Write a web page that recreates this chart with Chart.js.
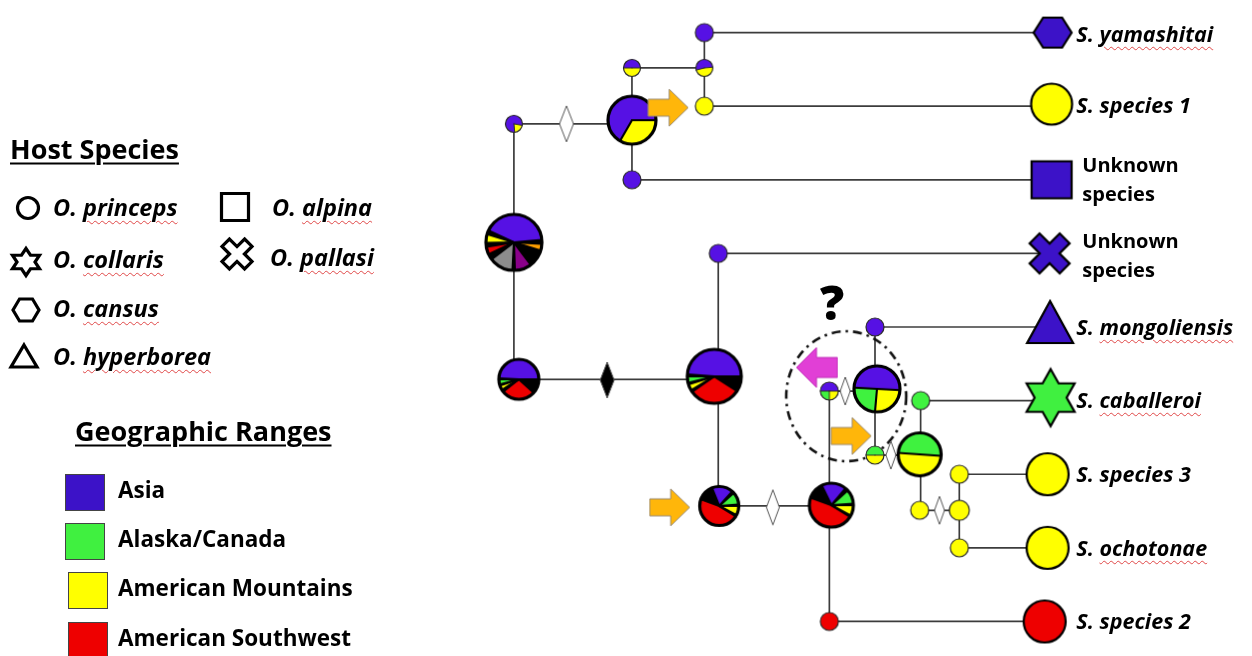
<!DOCTYPE html>
<html>
<head>
<meta charset="utf-8">
<title>Ancestral ranges and hosts</title>
<script src="https://cdn.jsdelivr.net/npm/chart.js@4.4.1/dist/chart.umd.min.js"></script>
<style>
  body { margin: 0; background: #fff; }
  #wrap { position: relative; width: 1252px; height: 656px; overflow: hidden; font-family: 'Open Sans', 'Noto Sans', sans-serif; color: #000; }
  #tree { position: absolute; left: 0; top: 0; }
  #keys { position: absolute; left: 0; top: 0; }
  .t { position: absolute; white-space: nowrap; line-height: 1; transform: translateY(-50%); font-weight: 700; }
  .i { font-style: italic; }
  .sp { text-decoration: underline wavy #e04848; text-decoration-thickness: 1px; text-underline-offset: 4px; }
  .h { font-size: 27px; text-decoration: underline; text-decoration-thickness: 2px; text-underline-offset: 4px; }
  .host { font-size: 23.5px; }
  .geo { font-size: 22.5px; }
  .tip { font-size: 21.5px; }
  .unk { font-size: 20px; line-height: 29px; }
  .sw { position: absolute; border: 1px solid #444; box-sizing: border-box; }
  .q { position: absolute; left: 820px; top: 278px; font-size: 48px; font-weight: 800; line-height: 1; }
</style>
</head>
<body>
<div id="wrap">
  <canvas id="tree" width="1252" height="656"></canvas>
  <svg id="keys" width="400" height="400"></svg>
  <div class="t h" style="left:10px;top:148px">Host Species</div>
  <div class="t h" style="left:75px;top:430px">Geographic Ranges</div>
  <div class="q">?</div>
</div>
<script>
// ---------- data ----------
const rangeNames = ['Asia', 'Alaska/Canada', 'American Mountains', 'American Southwest'];
const rangeKeys = ['AS', 'AK', 'AM', 'SW'];

const hostNames = ['O. princeps', 'O. alpina', 'O. collaris', 'O. pallasi', 'O. cansus', 'O. hyperborea'];
const hostShapes = ['circle', 'square', 'star', 'cross', 'hexagon', 'triangle'];

// tips, top to bottom (row = tip order)
const tipNames = ['S. yamashitai', 'S. species 1', 'Unknown species', 'Unknown species', 'S. mongoliensis',
                  'S. caballeroi', 'S. species 3', 'S. ochotonae', 'S. species 2'];
const tipRanges = ['AS', 'AM', 'AS', 'AS', 'AS', 'AK', 'AM', 'AM', 'SW'];
const tipHosts = ['O. cansus', 'O. princeps', 'O. alpina', 'O. pallasi', 'O. hyperborea',
                  'O. collaris', 'O. princeps', 'O. princeps', 'O. princeps'];
const tipRows = [0, 1, 2, 3, 4, 5, 6, 7, 8];
const tipX = [105.6, 105.5, 105.5, 105.3, 105.35, 105.4, 105.1, 105.1, 104.8];
const tipParents = ['E', 'F', 'G', 'K', 'P', 'S', 'V', 'W', 'X'];

// internal nodes
const nodeIds  = ['A', 'B', 'C', 'D', 'E', 'F', 'G', 'H', 'I', 'J', 'K', 'L',
                  'M', 'N', 'O', 'P', 'Q', 'R', 'S', 'T', 'U', 'V', 'W', 'X'];
const nodeX    = [51.3, 63.2, 63.2, 70.5, 70.5, 70.5, 63.2, 51.3, 51.8, 71.5, 71.9, 72.0,
                  83.3, 83.1, 87.9, 87.7, 87.7, 92.2, 92.3, 92.2, 96.2, 96.2, 96.2, 83.1];
const nodeRows = [1.24, 1.19, 0.48, 0.48, 0, 1.0, 2.0, 2.85, 4.71, 4.67, 3.0, 6.43,
                  6.42, 4.87, 4.84, 4.0, 5.74, 5.73, 5.0, 6.49, 6.49, 6.0, 7.0, 8.0];
// ancestral range slices in degrees, clockwise from nodeStart (BK = unresolved)
const nodeSlices = [
  [['AM', 75], ['AS', 285]],
  [['AM', 120], ['AS', 240]],
  [['AM', 180], ['AS', 180]],
  [['AM', 170], ['AS', 190]],
  [['AS', 360]],
  [['AM', 360]],
  [['AS', 360]],
  [['BK', 3], ['OR', 14], ['BK', 36], ['MG', 35], ['BK', 5], ['GR', 50], ['BK', 12],
   ['SW', 16], ['BK', 8], ['AM', 18], ['BK', 8], ['AS', 150], ['BK', 5]],
  [['BK', 42], ['SW', 100], ['BK', 6], ['AM', 14], ['BK', 3], ['AK', 15], ['BK', 3], ['AS', 177]],
  [['BK', 33], ['SW', 112], ['BK', 4], ['AM', 14], ['BK', 3], ['AK', 14], ['BK', 4], ['AS', 176]],
  [['AS', 360]],
  [['AM', 28], ['BK', 4], ['SW', 168], ['BK', 48], ['AS', 64], ['BK', 6], ['AK', 38], ['BK', 4]],
  [['AM', 28], ['BK', 4], ['SW', 168], ['BK', 44], ['AS', 66], ['BK', 8], ['AK', 38], ['BK', 4]],
  [['AM', 90], ['AK', 90], ['AS', 180]],
  [['AM', 92], ['AK', 88], ['AS', 180]],
  [['AS', 360]],
  [['AM', 180], ['AK', 180]],
  [['AM', 180], ['AK', 180]],
  [['AK', 360]],
  [['AM', 360]],
  [['AM', 360]],
  [['AM', 360]],
  [['AM', 360]],
  [['SW', 360]]
];
const nodeStart = [10, 0, 0, -5, 0, 0, 0, 0, 0, 0, 0, 0, 0, 0, 3, 0, 0, 4, 0, 0, 0, 0, 0, 0];

// branches: from, to, direction
const edgeFrom = ['A', 'C', 'C', 'E', 'A', 'I', 'K', 'L', 'N', 'N', 'P', 'Q', 'S', 'T', 'V'];
const edgeTo   = ['B', 'G', 'D', 'F', 'I', 'J', 'L', 'M', 'X', 'O', 'Q', 'R', 'T', 'U', 'W'];
const edgeDir  = ['h', 'v', 'h', 'v', 'v', 'h', 'v', 'h', 'v', 'h', 'v', 'h', 'v', 'h', 'v'];

// host switches on branches
const changeX = [56.6, 60.7, 77.4, 84.7, 89.3, 94.2];
const changeRows = [1.24, 4.72, 6.45, 4.87, 5.74, 6.49];
const changeFilled = [false, true, false, false, false, false];

// dispersal events
const arrowX = [66.85, 67.0, 85.3, 81.85];
const arrowRows = [1.02, 6.45, 5.48, 4.55];
const arrowDir = ['right', 'right', 'right', 'left'];

// uncertain placement
const ringX = [84.8];
const ringRows = [4.94];

// ---------- styles ----------
const rangeColor = { AS: '#5611e4', AK: '#3ff23f', AM: '#ffff00', SW: '#ee0000',
                     BK: '#000000', OR: '#ff9f00', MG: '#8a008a', GR: '#8c8c8c' };
const tipColor = { AS: '#3c12c8', AK: '#40f040', AM: '#ffff00', SW: '#ee0000' };
const nodeRadius = [8.5, 24, 8.5, 8.5, 9, 9, 9, 28, 20, 27, 9, 19.5,
                    22, 9, 23, 9, 9, 21.5, 9, 9, 10, 9, 9, 9];
const changeSize = [[14, 36], [14, 36], [13, 35], [10, 28], [10, 28], [10, 28]];
const tipW = [38, 41, 40, 40, 46, 48, 42, 42, 42];
const tipH = [30, 41, 37, 40, 42, 57, 42, 42, 42];
const tipDy = [0, -2, 0, 0, -5, -3, 0, 0, 0];
const tipSpell = [true, false, false, false, true, true, false, true, false];

function canvas(w, h) {
  const c = document.createElement('canvas');
  c.width = w; c.height = h;
  return c;
}

function shapePoints(shape, w, h) {
  if (shape === 'hexagon') return [[-w / 2, 0], [-w / 4, -h / 2], [w / 4, -h / 2], [w / 2, 0], [w / 4, h / 2], [-w / 4, h / 2]];
  if (shape === 'triangle') return [[0, -h / 2], [w / 2, h / 2], [-w / 2, h / 2]];
  if (shape === 'square') return [[-w / 2, -h / 2], [w / 2, -h / 2], [w / 2, h / 2], [-w / 2, h / 2]];
  if (shape === 'star') {
    const pts = [], sx = w / (h * 0.866);
    for (let k = 0; k < 12; k++) {
      const a = (-90 + k * 30) * Math.PI / 180, rr = (k % 2 ? 1 / Math.sqrt(3) : 1) * h / 2;
      pts.push([Math.cos(a) * rr * sx, Math.sin(a) * rr]);
    }
    return pts;
  }
  if (shape === 'cross') {
    const e = w / 2, t = 0.35 * e, L = e * Math.SQRT2 - t;
    const plus = [[-t, -L], [t, -L], [t, -t], [L, -t], [L, t], [t, t], [t, L], [-t, L], [-t, t], [-L, t], [-L, -t], [-t, -t]];
    const c = Math.SQRT1_2;
    return plus.map(([x, y]) => [(x - y) * c, (x + y) * c]);
  }
  return null;
}

function tracePath(g, shape, w, h) {
  g.beginPath();
  if (shape === 'circle') { g.arc(0, 0, w / 2, 0, Math.PI * 2); return; }
  shapePoints(shape, w, h).forEach(([x, y], k) => k ? g.lineTo(x, y) : g.moveTo(x, y));
  g.closePath();
}

function pieImage(r, slices, start) {
  const big = r > 15;
  const bw = big ? 3.2 : 1.2, sep = big ? 2.1 : 1;
  const size = 2 * Math.ceil(r + bw + 1);
  const c = canvas(size, size), g = c.getContext('2d'), m = size / 2;
  let a = start * Math.PI / 180;
  const total = slices.reduce((s, d) => s + d[1], 0);
  const cuts = [];
  slices.forEach(([key, v]) => {
    const b = a + v / total * Math.PI * 2;
    g.beginPath(); g.moveTo(m, m); g.arc(m, m, r, a, b); g.closePath();
    g.fillStyle = rangeColor[key]; g.fill();
    cuts.push(a); a = b;
  });
  g.strokeStyle = big ? '#000' : '#2a2a2a';
  g.lineCap = 'round';
  if (slices.length > 1) {
    g.lineWidth = sep;
    cuts.forEach(a0 => {
      g.beginPath(); g.moveTo(m, m);
      g.lineTo(m + r * Math.cos(a0), m + r * Math.sin(a0)); g.stroke();
    });
  }
  g.lineWidth = bw;
  g.beginPath(); g.arc(m, m, r, 0, Math.PI * 2); g.stroke();
  return c;
}

function tipImage(shape, w, h, fill, dy) {
  const W = 2 * Math.ceil(w / 2 + 4), H = 2 * Math.ceil(h / 2 + 4 + Math.abs(dy));
  const c = canvas(W, H), g = c.getContext('2d');
  g.translate(W / 2, H / 2 + dy);
  tracePath(g, shape, w, h);
  g.fillStyle = fill; g.fill();
  g.lineWidth = 2.2; g.strokeStyle = '#000'; g.lineJoin = 'miter';
  g.stroke();
  return c;
}

function diamondImage(w, h, filled) {
  const W = 2 * Math.ceil(w / 2 + 2), H = 2 * Math.ceil(h / 2 + 2);
  const c = canvas(W, H), g = c.getContext('2d');
  g.translate(W / 2, H / 2);
  g.beginPath(); g.moveTo(0, -h / 2); g.lineTo(w / 2, 0); g.lineTo(0, h / 2); g.lineTo(-w / 2, 0); g.closePath();
  g.fillStyle = filled ? '#000' : '#fff'; g.fill();
  g.lineWidth = 1; g.strokeStyle = '#555'; g.stroke();
  return c;
}

function arrowImage(dir) {
  const right = dir === 'right';
  const w = right ? 40 : 41, h = right ? 37 : 40;
  const bh = right ? 17 : 20, hw = right ? 19 : 20;
  const c = canvas(w + 2, h + 2), g = c.getContext('2d');
  g.translate(1, 1);
  if (!right) { g.translate(w, 0); g.scale(-1, 1); }
  g.beginPath();
  g.moveTo(0, (h - bh) / 2); g.lineTo(w - hw, (h - bh) / 2); g.lineTo(w - hw, 0); g.lineTo(w, h / 2);
  g.lineTo(w - hw, h); g.lineTo(w - hw, (h + bh) / 2); g.lineTo(0, (h + bh) / 2); g.closePath();
  g.fillStyle = right ? '#ffb60a' : '#e13fd6'; g.fill();
  g.lineWidth = 1; g.strokeStyle = right ? '#9a8a70' : '#c030b8'; g.stroke();
  return c;
}

function ringImage() {
  const rx = 60, ry = 65;
  const c = canvas(2 * rx + 8, 2 * ry + 8), g = c.getContext('2d');
  g.setLineDash([9, 5, 2.5, 5]);
  g.lineWidth = 2.6; g.strokeStyle = '#111';
  g.beginPath(); g.ellipse(c.width / 2, c.height / 2, rx, ry, 0, 0, Math.PI * 2); g.stroke();
  return c;
}

// ---------- datasets ----------
const nodeIndex = id => nodeIds.indexOf(id);
const datasets = [];

edgeFrom.forEach((f, i) => {
  const a = nodeIndex(f), b = nodeIndex(edgeTo[i]);
  const end = edgeDir[i] === 'h' ? { x: nodeX[b], y: nodeRows[a] } : { x: nodeX[a], y: nodeRows[b] };
  datasets.push({ data: [{ x: nodeX[a], y: nodeRows[a] }, end], showLine: true, order: 10 });
});
tipParents.forEach((p, i) => {
  const a = nodeIndex(p);
  datasets.push({ data: [{ x: nodeX[a], y: nodeRows[a] }, { x: tipX[i], y: nodeRows[a] }], showLine: true, order: 10 });
});
datasets.forEach(d => Object.assign(d, { borderColor: '#3c3c3c', borderWidth: 1.7, pointRadius: 0 }));

datasets.push({
  data: ringX.map((x, i) => ({ x, y: ringRows[i] })),
  pointStyle: ringX.map(() => ringImage()), pointRadius: 1, order: 8
});
datasets.push({
  data: changeX.map((x, i) => ({ x, y: changeRows[i] })),
  pointStyle: changeX.map((x, i) => diamondImage(changeSize[i][0], changeSize[i][1], changeFilled[i])),
  pointRadius: 1, order: 6
});
datasets.push({
  data: nodeX.map((x, i) => ({ x, y: nodeRows[i] })),
  pointStyle: nodeX.map((x, i) => pieImage(nodeRadius[i], nodeSlices[i], nodeStart[i])),
  pointRadius: 1, order: 4
});
datasets.push({
  data: tipX.map((x, i) => ({ x, y: tipRows[i] })),
  pointStyle: tipX.map((x, i) => tipImage(hostShapes[hostNames.indexOf(tipHosts[i])], tipW[i], tipH[i],
                                        tipColor[tipRanges[i]], tipDy[i])),
  pointRadius: 1, order: 3
});
datasets.push({
  data: arrowX.map((x, i) => ({ x, y: arrowRows[i] })),
  pointStyle: arrowDir.map(d => arrowImage(d)), pointRadius: 1, order: 1
});

const chart = new Chart(document.getElementById('tree'), {
  type: 'scatter',
  data: { datasets },
  options: {
    responsive: false,
    animation: false,
    events: [],
    layout: { padding: 0 },
    plugins: { legend: { display: false }, tooltip: { enabled: false } },
    scales: {
      x: { type: 'linear', min: 0, max: 125.2, display: false },
      y: { type: 'linear', min: -0.3746, max: 8.4014, reverse: true, display: false }
    }
  }
});

// ---------- tip labels ----------
const wrap = document.getElementById('wrap');
const labelX = 108.0, unknownX = 108.6;
const labelDy = [1, -1, -1, 2, 0, -1, 0, 0, 0];
tipNames.forEach((name, i) => {
  const d = document.createElement('div');
  const unknown = name.startsWith('Unknown');
  d.className = 't ' + (unknown ? 'unk' : 'tip i');
  d.style.left = chart.scales.x.getPixelForValue(unknown ? unknownX : labelX) + 'px';
  d.style.top = (chart.scales.y.getPixelForValue(tipRows[i]) + labelDy[i]) + 'px';
  if (unknown) {
    d.innerHTML = name.replace(' ', '<br>');
  } else {
    const cut = name.indexOf(' ');
    const rest = name.slice(cut + 1);
    d.innerHTML = name.slice(0, cut + 1) + (tipSpell[i] ? '<span class="sp">' + rest + '</span>' : rest);
  }
  wrap.appendChild(d);
});

// ---------- host legend ----------
const keyIconX = [28, 235, 26, 237, 26, 24];
const keyIconY = [208, 207, 262, 254, 310, 356];
const keyIconW = [21, 27, 27, 30, 26, 26];
const keyIconH = [21, 27, 27, 30, 22, 22];
const keyTextX = [53, 272, 53, 270, 53, 53];
const keyTextY = [208, 208, 260, 258, 309, 357];
const svg = document.getElementById('keys');
let svgHtml = '';
hostNames.forEach((name, i) => {
  const shape = hostShapes[i];
  const tr = 'translate(' + keyIconX[i] + ',' + keyIconY[i] + ')';
  if (shape === 'circle') {
    svgHtml += '<circle transform="' + tr + '" r="' + keyIconW[i] / 2 + '" fill="none" stroke="#000" stroke-width="3.2"/>';
  } else {
    const pts = shapePoints(shape, keyIconW[i], keyIconH[i]).map(p => p[0].toFixed(2) + ',' + p[1].toFixed(2)).join(' ');
    svgHtml += '<polygon transform="' + tr + '" points="' + pts + '" fill="none" stroke="#000" stroke-width="3.2"/>';
  }
  const d = document.createElement('div');
  d.className = 't host i';
  d.style.left = keyTextX[i] + 'px';
  d.style.top = keyTextY[i] + 'px';
  const cut = name.indexOf(' ');
  d.innerHTML = name.slice(0, cut + 1) + '<span class="sp">' + name.slice(cut + 1) + '</span>';
  wrap.appendChild(d);
});
svg.innerHTML = svgHtml;

// ---------- range legend ----------
const swatchX = [65, 65, 68, 68];
const swatchY = [474, 523, 572, 622];
const swatchColor = { AS: '#3c12c8', AK: '#40f040', AM: '#ffff00', SW: '#ee0000' };
rangeNames.forEach((name, i) => {
  const s = document.createElement('div');
  s.className = 'sw';
  Object.assign(s.style, { left: swatchX[i] + 'px', top: swatchY[i] + 'px', width: '40px', height: '37px',
                           background: swatchColor[rangeKeys[i]] });
  wrap.appendChild(s);
  const d = document.createElement('div');
  d.className = 't geo';
  d.style.left = '118px';
  d.style.top = (swatchY[i] + 16) + 'px';
  d.textContent = name;
  wrap.appendChild(d);
});
</script>
</body>
</html>
